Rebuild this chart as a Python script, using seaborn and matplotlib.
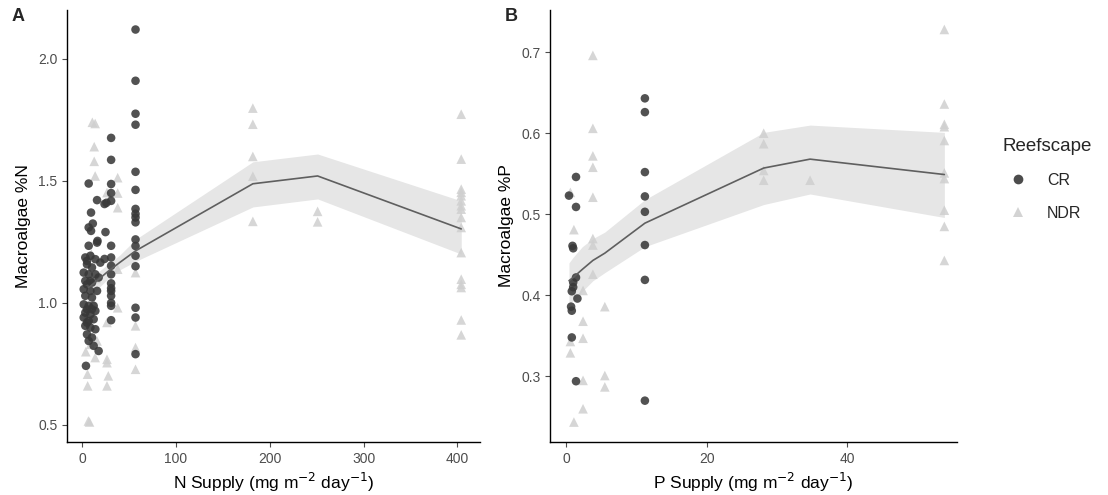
import numpy as np
import pandas as pd
import matplotlib
matplotlib.use("Agg")
import matplotlib.pyplot as plt
import seaborn as sns
from matplotlib.lines import Line2D

# ---------------- Panel A data (N supply vs %N) ----------------
a_cr_x = [57]*17 + [31]*16 + [24, 26, 25, 24] + [
    7.1, 16, 9.6, 11.5, 7.1, 9.6, 16.5,
    7.1, 16, 3.5, 8.9, 14.2, 19.5, 5.3, 10.6, 1.8, 7.1, 14.2, 3.5, 10.6, 17.7,
    1.8, 8.9, 16, 3.5, 10.6, 1.8, 7.1, 12.4, 3.5, 8.9, 14.2, 1.8, 7.1, 12.4,
    3.5, 8.9, 14.2, 5.3, 10.6, 7.1, 12.4, 17.7, 4.2,
    5.3, 5.3, 5.3, 10.6, 5.3, 8.9]
a_cr_y = [2.12, 1.91, 1.775, 1.73, 1.537, 1.463, 1.385, 1.365, 1.35, 1.33,
          1.26, 1.233, 1.193, 1.15, 0.98, 0.94, 0.79] + \
         [1.676, 1.586, 1.487, 1.45, 1.418, 1.234, 1.186, 1.152, 1.117, 1.08,
          1.06, 1.049, 1.029, 1.0, 0.988, 0.929] + [1.405, 1.41, 1.29, 1.18] + [
    1.489, 1.421, 1.37, 1.325, 1.309, 1.295, 1.254,
    1.234, 1.247, 1.186, 1.193, 1.179, 1.165, 1.158, 1.145, 1.124, 1.117, 1.117,
    1.09, 1.083, 1.104, 1.056, 1.049, 1.049, 1.029, 1.022, 0.994, 0.988, 0.988,
    0.96, 0.953, 0.967, 0.94, 0.926, 0.933, 0.906, 0.899, 0.892, 0.871, 0.858,
    0.844, 0.824, 0.803, 0.742,
    1.172, 1.076, 0.974, 0.974, 0.919, 1.09]

a_ndr_x = [11, 14, 13, 13, 14, 38, 38, 38, 38, 38, 26.6, 26.6, 26.6, 26.6, 26.6, 28,
           57, 57, 57, 57, 9, 16, 14, 5.9, 6, 6.8, 8, 10, 12, 6, 15, 4] + \
          [182]*5 + [251]*2 + [404]*16
a_ndr_y = [1.74, 1.735, 1.64, 1.58, 1.52, 1.513, 1.45, 1.39, 1.138, 0.98,
           1.452, 0.92, 0.769, 0.755, 0.66, 0.701,
           1.124, 0.906, 0.817, 0.728, 0.83, 0.844, 0.776, 0.708, 0.66, 0.516, 0.512,
           1.2, 1.0, 0.95, 1.1, 0.8] + \
          [1.798, 1.732, 1.60, 1.519, 1.334] + [1.375, 1.332] + \
          [1.773, 1.589, 1.466, 1.453, 1.439, 1.418, 1.398, 1.384, 1.35, 1.309,
           1.206, 1.097, 1.076, 1.063, 0.93, 0.869]

a_fit_x = [7, 12, 28, 40, 57, 182, 251, 404]
a_fit = [1.063, 1.078, 1.13, 1.165, 1.213, 1.488, 1.52, 1.303]
a_lo = [1.02, 1.04, 1.10, 1.135, 1.17, 1.393, 1.426, 1.20]
a_hi = [1.10, 1.11, 1.16, 1.195, 1.26, 1.578, 1.61, 1.418]

# ---------------- Panel B data (P supply vs %P) ----------------
b_cr_x = [0.4, 1.4, 1.4, 0.9, 1.0, 1.4, 1.0, 1.0, 0.8, 1.6, 0.7, 0.8, 0.8, 1.4] + [11.2]*8
b_cr_y = [0.523, 0.546, 0.509, 0.461, 0.458, 0.422, 0.416, 0.41, 0.405, 0.396,
          0.386, 0.381, 0.348, 0.294] + \
         [0.643, 0.626, 0.552, 0.522, 0.503, 0.462, 0.419, 0.270]

b_ndr_x = [3.8]*8 + [0.6]*3 + [1.1]*2 + [2.4]*5 + [5.5]*3 + [28.1]*4 + [34.7] + [53.8]*10
b_ndr_y = [0.696, 0.606, 0.572, 0.558, 0.521, 0.47, 0.462, 0.426] + \
          [0.527, 0.343, 0.329] + [0.481, 0.2436] + \
          [0.406, 0.368, 0.347, 0.295, 0.26] + [0.386, 0.301, 0.287] + \
          [0.600, 0.587, 0.554, 0.542] + [0.542] + \
          [0.728, 0.636, 0.611, 0.608, 0.591, 0.551, 0.544, 0.505, 0.485, 0.443]

b_fit_x = [0.4, 1.0, 2.3, 3.8, 5.5, 11.2, 28.1, 34.7, 53.8]
b_fit = [0.418, 0.422, 0.432, 0.443, 0.452, 0.489, 0.557, 0.568, 0.549]
b_lo = [0.39, 0.393, 0.405, 0.418, 0.428, 0.46, 0.512, 0.525, 0.496]
b_hi = [0.44, 0.447, 0.46, 0.47, 0.478, 0.518, 0.601, 0.61, 0.601]

groups = ["CR", "NDR"]
colors = {"CR": "#383838", "NDR": "#cfcfcf"}
markers = {"CR": "o", "NDR": "^"}

sns.set_theme(style="ticks")
plt.rcParams["font.family"] = ["Liberation Sans", "DejaVu Sans"]

fig = plt.figure(figsize=(11.08, 4.95), dpi=100)
axA = fig.add_axes([67/1108, 53/495, 413/1108, 432/495])
axB = fig.add_axes([550/1108, 53/495, 407/1108, 432/495])


def make_df(cx, cy, nx, ny):
    return pd.DataFrame({
        "x": list(cx) + list(nx),
        "y": list(cy) + list(ny),
        "Reefscape": ["CR"]*len(cx) + ["NDR"]*len(nx),
    })


def panel(ax, df, fx, fit, lo, hi, xlim, ylim, xticks, yticks, xlabel, ylabel, letter, lx):
    ax.fill_between(fx, lo, hi, color="#e6e6e6", lw=0, zorder=1)
    d_ndr = df[df.Reefscape == "NDR"]
    d_cr = df[df.Reefscape == "CR"]
    sns.scatterplot(data=d_ndr, x="x", y="y", ax=ax, marker="^", color=colors["NDR"],
                    s=48, edgecolor="none", alpha=0.85, legend=False, zorder=2)
    sns.scatterplot(data=d_cr, x="x", y="y", ax=ax, marker="o", color=colors["CR"],
                    s=38, edgecolor="none", alpha=0.87, legend=False, zorder=3)
    sns.lineplot(x=fx, y=fit, ax=ax, color="#5f5f5f", lw=1.2, zorder=4)
    ax.set_xlim(*xlim)
    ax.set_ylim(*ylim)
    ax.set_xticks(xticks)
    ax.set_yticks(yticks)
    ax.set_yticklabels([f"{v:.1f}" for v in yticks])
    ax.set_xlabel(xlabel, fontsize=12.5, color="black", labelpad=4)
    ax.set_ylabel(ylabel, fontsize=12.5, color="black", labelpad=5)
    ax.tick_params(axis="both", labelsize=10, colors="#4d4d4d", length=3.5, width=0.8,
                   labelcolor="#4d4d4d")
    for sp in ["top", "right"]:
        ax.spines[sp].set_visible(False)
    for sp in ["left", "bottom"]:
        ax.spines[sp].set_color("black")
        ax.spines[sp].set_linewidth(1.0)
    ax.text(lx, 0.985, letter, transform=ax.transAxes,
            fontsize=13, fontweight="bold", va="center", ha="left")


dfA = make_df(a_cr_x, a_cr_y, a_ndr_x, a_ndr_y)
dfB = make_df(b_cr_x, b_cr_y, b_ndr_x, b_ndr_y)

panel(axA, dfA, a_fit_x, a_fit, a_lo, a_hi, (-16, 424), (0.43, 2.20),
      [0, 100, 200, 300, 400], [0.5, 1.0, 1.5, 2.0],
      r"N Supply (mg m$^{-2}$ day$^{-1}$)", "Macroalgae %N", "A", -0.135)
panel(axB, dfB, b_fit_x, b_fit, b_lo, b_hi, (-2.3, 55.6), (0.219, 0.752),
      [0, 20, 40], [0.3, 0.4, 0.5, 0.6, 0.7],
      r"P Supply (mg m$^{-2}$ day$^{-1}$)", "Macroalgae %P", "B", -0.11)

handles = [Line2D([], [], marker=markers[g], color=colors[g], linestyle="none",
                  markersize=7, alpha=0.9, markeredgewidth=0) for g in groups]
leg = fig.legend(handles, groups, title="Reefscape", loc="upper left",
                 bbox_to_anchor=(996/1108, 1 - 132/495), frameon=False,
                 fontsize=11.5, title_fontsize=13.5, handletextpad=0.8,
                 labelspacing=1.1, borderaxespad=0)
leg._legend_box.align = "left"

fig.savefig("out.png", dpi=100)
